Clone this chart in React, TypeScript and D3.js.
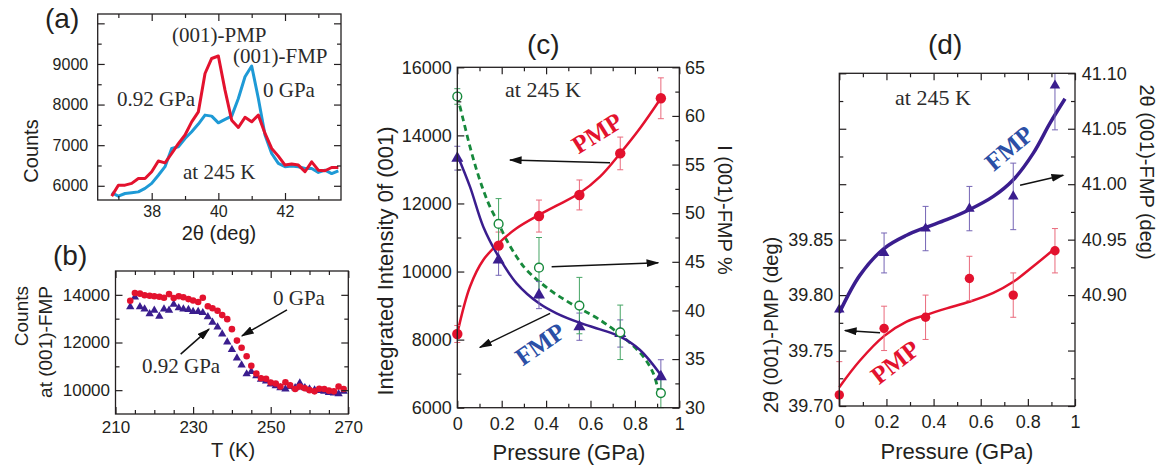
import React, { useEffect, useRef } from 'react';
import * as d3 from 'd3';

const SANS = '"Liberation Sans", Arial, Helvetica, sans-serif';
const SERIF = '"Liberation Serif", "Times New Roman", Times, serif';
const INK = '#231f20';
const RED = '#e3122e';
const RED_ERR = '#ea6a7c';
const SKY = '#1e9ad6';
const PURPLE = '#3a1d8e';
const PURPLE_ERR = '#7565b5';
const GREEN = '#17893c';
const GREEN_ERR = '#46a565';
const FMP_TXT = '#2b4fa6';

// (a) 2theta scans at 245 K
const scanTheta = [36.8, 37.0, 37.2, 37.4, 37.6, 37.8, 38.0, 38.2, 38.4, 38.6, 38.8, 39.0, 39.2, 39.4, 39.6, 39.8, 40.0, 40.2, 40.4, 40.6, 40.8, 41.0, 41.2, 41.4, 41.6, 41.8, 42.0, 42.2, 42.4, 42.6, 42.8, 43.0, 43.2, 43.4, 43.6];
const scan0GPa = [5828, 5745, 5810, 5830, 5850, 5935, 6060, 6260, 6470, 6920, 6960, 7165, 7330, 7520, 7740, 7715, 7550, 7635, 7715, 8150, 8685, 8950, 8150, 7250, 6795, 6550, 6470, 6485, 6470, 6425, 6425, 6330, 6385, 6300, 6370];
const scan092GPa = [5745, 6015, 6015, 6060, 6180, 6180, 6345, 6610, 6565, 6795, 7040, 7250, 7575, 7820, 8765, 9135, 9195, 8355, 7615, 7435, 7685, 7575, 7740, 7290, 6920, 6730, 6510, 6535, 6510, 6345, 6590, 6385, 6370, 6450, 6450];

// (b) temperature dependence of (001)-FMP counts
const tempK = [213.8, 215.0, 216.3, 217.5, 218.8, 220.0, 221.3, 222.5, 223.8, 225.0, 226.3, 227.5, 228.8, 230.0, 231.3, 232.5, 233.8, 235.0, 236.3, 237.5, 238.8, 240.0, 241.3, 242.5, 243.8, 245.0, 246.3, 247.5, 248.8, 250.0, 251.3, 252.5, 253.8, 255.0, 256.3, 257.5, 258.8, 260.0, 261.3, 262.5, 263.8, 265.0, 266.3, 267.5, 268.8];
const counts0GPa = [13750, 14080, 14050, 13980, 13960, 13940, 13920, 13880, 14030, 13870, 13940, 13900, 13820, 13760, 13700, 13880, 13520, 13440, 13330, 13150, 12980, 12560, 12080, 11780, 11420, 11020, 10700, 10500, 10480, 10320, 10280, 10150, 10330, 10200, 10050, 10150, 10080, 10000, 9950, 10060, 10050, 9980, 9950, 10150, 10050];
const counts092GPa = [13500, 13900, 13500, 13400, 13200, 13350, 13100, 13400, 13350, 13600, 13450, 13400, 13380, 13300, 13300, 13250, 13080, 12850, 12650, 12350, 12020, 11700, 11350, 11050, 10680, 10780, 10600, 10450, 10380, 10250, 10180, 10100, 10050, 10150, 10100, 10300, 10100, 10050, 10000, 9980, 9950, 9900, 9880, 9850, 9950];

// (c) integrated intensity vs pressure
const cPressure = [0, 0.186, 0.368, 0.55, 0.734, 0.917];
const cPmp = [8165, 10760, 11630, 12250, 13470, 15090];
const cPmpErr = [250, 400, 470, 440, 480, 600];
const cFmp = [13330, 10340, 9310, 8380, 8180, 6910];
const cFmpErr = [350, 450, 400, 400, 400, 500];
const cFmpPct = [62.0, 48.9, 44.4, 40.5, 37.75, 31.5];
const cFmpPctErr = [0.8, 2.6, 3.1, 2.9, 2.8, 1.5];
const cFitP = [0, 0.057, 0.117, 0.186, 0.267, 0.368, 0.447, 0.55, 0.643, 0.734, 0.823, 0.917];
const cPmpFit = [8184, 9555, 10340, 10830, 11270, 11661, 11935, 12298, 12787, 13473, 14208, 15090];
const cFmpFit = [13424, 12494, 11318, 10437, 9653, 9066, 8772, 8498, 8302, 8086, 7695, 6960];
const cPctFitP = [0, 0.027, 0.057, 0.087, 0.117, 0.147, 0.185, 0.222, 0.267, 0.312, 0.417, 0.523, 0.643, 0.763, 0.838, 0.883, 0.905];
const cPctFit = [62.05, 59.58, 56.84, 54.44, 52.38, 50.67, 48.96, 47.24, 45.53, 44.16, 42.1, 40.56, 39.02, 36.96, 35.25, 33.53, 31.82];

// (d) peak positions vs pressure
const dPressure = [0, 0.19, 0.366, 0.552, 0.738, 0.915];
const dPmp = [39.71, 39.77, 39.78, 39.815, 39.8, 39.84];
const dPmpErr = [0.03, 0.02, 0.02, 0.02, 0.02, 0.02];
const dFmp = [40.887, 40.938, 40.96, 40.978, 40.989, 41.089];
const dFmpErr = [0, 0.018, 0.02, 0.02, 0.03, 0.04];
const dFmpFitP = [0, 0.0877, 0.1895, 0.2857, 0.3663, 0.4554, 0.5516, 0.6535, 0.7383, 0.8232, 0.8939, 0.9576];
const dFmpFit = [40.884, 40.918, 40.942, 40.954, 40.961, 40.968, 40.977, 40.989, 41.004, 41.028, 41.055, 41.077];
const dPmpFitP = [0, 0.0877, 0.1895, 0.2857, 0.3663, 0.4554, 0.5516, 0.6535, 0.7383, 0.8232, 0.9151];
const dPmpFit = [39.717, 39.741, 39.763, 39.776, 39.782, 39.788, 39.794, 39.802, 39.812, 39.826, 39.842];

const fmtP = d3.format('~g');

function axis(g, ax, transform, fs = 16) {
  const a = g.append('g').attr('transform', transform).call(ax);
  a.select('.domain').remove();
  a.attr('color', INK).attr('font-family', SANS).attr('font-size', fs);
  a.selectAll('line').attr('stroke-width', 1.2);
  a.selectAll('text').attr('fill', INK);
  return a;
}

function frame(g, x, y, o) {
  const [x0, x1] = x.range();
  const [y0, y1] = y.range();
  g.append('rect')
    .attr('x', x0).attr('y', y1)
    .attr('width', x1 - x0).attr('height', y0 - y1)
    .attr('fill', 'none').attr('stroke', INK).attr('stroke-width', 1.3);
  const none = () => '';
  axis(g, d3.axisBottom(x).tickValues(o.xMajor).tickSize(-o.maj).tickPadding(o.padB).tickFormat(o.xFmt), `translate(0,${y0})`, o.fs);
  axis(g, d3.axisBottom(x).tickValues(o.xMinor).tickSize(-o.min).tickFormat(none), `translate(0,${y0})`);
  axis(g, d3.axisTop(x).tickValues(o.xMajor).tickSize(-o.maj).tickFormat(none), `translate(0,${y1})`);
  axis(g, d3.axisTop(x).tickValues(o.xMinor).tickSize(-o.min).tickFormat(none), `translate(0,${y1})`);
  axis(g, d3.axisLeft(y).tickValues(o.yMajor).tickSize(-o.maj).tickPadding(o.padL).tickFormat(o.yFmt), `translate(${x0},0)`, o.fs);
  axis(g, d3.axisLeft(y).tickValues(o.yMinor).tickSize(-o.min).tickFormat(none), `translate(${x0},0)`);
  const yr = o.yR || y;
  axis(g, d3.axisRight(yr).tickValues(o.yRMajor || o.yMajor).tickSize(-o.maj).tickPadding(o.padR || 6).tickFormat(o.yR ? o.yRFmt : none), `translate(${x1},0)`, o.fs);
  axis(g, d3.axisRight(yr).tickValues(o.yRMinor || o.yMinor).tickSize(-o.min).tickFormat(none), `translate(${x1},0)`);
}

function curve(g, x, y, xs, ys, color, width, dash = null) {
  const line = d3.line().curve(d3.curveCatmullRom.alpha(0.5)).x(d => x(d[0])).y(d => y(d[1]));
  g.append('path')
    .datum(xs.map((v, i) => [v, ys[i]]))
    .attr('d', line)
    .attr('fill', 'none').attr('stroke', color).attr('stroke-width', width)
    .attr('stroke-dasharray', dash).attr('stroke-linejoin', 'round');
}

function errBars(g, x, y, xs, vs, es, color) {
  const [bottom, top] = y.range();
  xs.forEach((p, i) => {
    if (!es[i]) return;
    const yt = y(vs[i] + es[i]);
    const yb = y(vs[i] - es[i]);
    const ct = Math.max(top, yt);
    const cb = Math.min(bottom, yb);
    const cx = x(p);
    g.append('line').attr('x1', cx).attr('x2', cx).attr('y1', ct).attr('y2', cb).attr('stroke', color).attr('stroke-width', 1);
    if (yt >= top) g.append('line').attr('x1', cx - 3).attr('x2', cx + 3).attr('y1', yt).attr('y2', yt).attr('stroke', color).attr('stroke-width', 1);
    if (yb <= bottom) g.append('line').attr('x1', cx - 3).attr('x2', cx + 3).attr('y1', yb).attr('y2', yb).attr('stroke', color).attr('stroke-width', 1);
  });
}

function circles(g, x, y, xs, vs, r, color, open = false) {
  g.selectAll(null).data(xs.map((v, i) => [v, vs[i]])).enter().append('circle')
    .attr('cx', d => x(d[0])).attr('cy', d => y(d[1])).attr('r', r)
    .attr('fill', open ? '#fff' : color).attr('stroke', color).attr('stroke-width', open ? 1.4 : 0);
}

function triangles(g, x, y, xs, vs, size, color) {
  const sym = d3.symbol(d3.symbolTriangle, size);
  g.selectAll(null).data(xs.map((v, i) => [v, vs[i]])).enter().append('path')
    .attr('d', sym)
    .attr('transform', d => `translate(${x(d[0])},${y(d[1])})`)
    .attr('fill', color);
}

function serif(g, x, y, txt, size, opts = {}) {
  const t = g.append('text')
    .attr('font-family', SERIF).attr('font-size', size)
    .attr('fill', opts.color || '#2b2b2b')
    .attr('font-weight', opts.bold ? 'bold' : 'normal')
    .text(txt);
  if (opts.rotate !== undefined) {
    t.attr('transform', `translate(${x},${y}) rotate(${opts.rotate})`)
      .attr('text-anchor', 'middle').attr('dominant-baseline', 'central');
  } else {
    t.attr('x', x).attr('y', y);
  }
  return t;
}

function sans(g, x, y, txt, size, rotate = 0, anchor = 'middle') {
  return g.append('text')
    .attr('transform', `translate(${x},${y}) rotate(${rotate})`)
    .attr('text-anchor', anchor)
    .attr('font-family', SANS).attr('font-size', size).attr('fill', INK)
    .text(txt);
}

function arrow(g, x, y, from, to) {
  g.append('line')
    .attr('x1', x(from[0])).attr('y1', y(from[1]))
    .attr('x2', x(to[0])).attr('y2', y(to[1]))
    .attr('stroke', '#111').attr('stroke-width', 1.5)
    .attr('marker-end', 'url(#arrowhead)');
}

const App = () => {
  const svgRef = useRef(null);

  useEffect(() => {
    const svg = d3.select(svgRef.current);
    svg.selectAll('*').remove();

    svg.append('defs').append('marker')
      .attr('id', 'arrowhead')
      .attr('viewBox', '0 0 10 10')
      .attr('refX', 9).attr('refY', 5)
      .attr('markerWidth', 13).attr('markerHeight', 8)
      .attr('markerUnits', 'userSpaceOnUse')
      .attr('preserveAspectRatio', 'none')
      .attr('orient', 'auto')
      .append('path').attr('d', 'M0,0 L10,5 L0,10 z').attr('fill', '#111');

    // ---------- (a) ----------
    const ga = svg.append('g');
    const xa = d3.scaleLinear().domain([36.38, 43.68]).range([97.7, 341]);
    const ya = d3.scaleLinear().domain([5650, 10230]).range([200, 14]);
    curve(ga, xa, ya, scanTheta, scan0GPa, SKY, 3);
    ga.select('path:last-child').attr('d', d3.line().x(d => xa(d[0])).y(d => ya(d[1]))(scanTheta.map((v, i) => [v, scan0GPa[i]])));
    ga.append('path')
      .attr('d', d3.line().x(d => xa(d[0])).y(d => ya(d[1]))(scanTheta.map((v, i) => [v, scan092GPa[i]])))
      .attr('fill', 'none').attr('stroke', RED).attr('stroke-width', 3).attr('stroke-linejoin', 'round');
    frame(ga, xa, ya, {
      xMajor: [38, 40, 42], xMinor: [37, 39, 41, 43], xFmt: d3.format('d'),
      yMajor: [6000, 7000, 8000, 9000, 10000], yMinor: [6500, 7500, 8500, 9500],
      yFmt: v => (v === 10000 ? '' : v), maj: 7, min: 4, padB: 5.5, padL: 9.5, fs: 16,
    });
    sans(ga, 38, 151, 'Counts', 20, -90);
    sans(ga, 219, 240, '2θ (deg)', 20);
    sans(ga, 45, 28, '(a)', 28, 0, 'start');
    serif(ga, 172, 42, '(001)-PMP', 21);
    serif(ga, 233, 63, '(001)-FMP', 21);
    serif(ga, 117, 106, '0.92 GPa', 21);
    serif(ga, 263, 97, '0 GPa', 21);
    serif(ga, 183, 179, 'at 245 K', 21);

    // ---------- (b) ----------
    const gb = svg.append('g');
    const xb = d3.scaleLinear().domain([210, 270]).range([115.5, 348.3]);
    const yb = d3.scaleLinear().domain([9000, 15000]).range([414, 271]);
    triangles(gb, xb, yb, tempK, counts092GPa, 30, PURPLE);
    circles(gb, xb, yb, tempK, counts0GPa, 3.3, RED);
    frame(gb, xb, yb, {
      xMajor: [210, 230, 250, 270], xMinor: [215, 220, 225, 235, 240, 245, 255, 260, 265], xFmt: d3.format('d'),
      yMajor: [10000, 12000, 14000], yMinor: [11000, 13000], yFmt: d3.format('d'),
      maj: 7, min: 4, padB: 6.5, padL: 5.5, fs: 17,
    });
    sans(gb, 28, 286, 'Counts', 19, -90, 'end');
    sans(gb, 52, 286, 'at (001)-FMP', 19, -90, 'end');
    sans(gb, 233, 457, 'T (K)', 20);
    sans(gb, 53, 265, '(b)', 28, 0, 'start');
    serif(gb, 273, 305, '0 GPa', 21);
    serif(gb, 142, 373, '0.92 GPa', 21);
    arrow(gb, xb, yb, [254.2, 13371], [242.6, 12281]);
    arrow(gb, xb, yb, [226.8, 11513], [234.1, 12561]);

    // ---------- (c) ----------
    const gc = svg.append('g');
    const xc = d3.scaleLinear().domain([0, 1]).range([457.3, 679.3]);
    const yc = d3.scaleLinear().domain([6000, 16000]).range([407.7, 67.3]);
    const yc2 = d3.scaleLinear().domain([30, 65]).range([407.7, 67.3]);
    curve(gc, xc, yc2, cPctFitP, cPctFit, GREEN, 2.8, '6,4');
    curve(gc, xc, yc, cFitP, cPmpFit, RED, 2.5);
    curve(gc, xc, yc, cFitP, cFmpFit, PURPLE, 2.5);
    errBars(gc, xc, yc, cPressure, cPmp, cPmpErr, RED_ERR);
    errBars(gc, xc, yc, cPressure, cFmp, cFmpErr, PURPLE_ERR);
    errBars(gc, xc, yc2, cPressure, cFmpPct, cFmpPctErr, GREEN_ERR);
    circles(gc, xc, yc, cPressure, cPmp, 5.2, RED);
    triangles(gc, xc, yc, cPressure, cFmp, 62, PURPLE);
    circles(gc, xc, yc2, cPressure, cFmpPct, 4.4, GREEN, true);
    frame(gc, xc, yc, {
      xMajor: [0, 0.2, 0.4, 0.6, 0.8, 1], xMinor: [0.1, 0.3, 0.5, 0.7, 0.9], xFmt: fmtP,
      yMajor: [6000, 8000, 10000, 12000, 14000, 16000], yMinor: [7000, 9000, 11000, 13000, 15000], yFmt: d3.format('d'),
      yR: yc2, yRMajor: [30, 35, 40, 45, 50, 55, 60, 65], yRMinor: [32.5, 37.5, 42.5, 47.5, 52.5, 57.5, 62.5], yRFmt: d3.format('d'),
      maj: 7, min: 4, padB: 9.5, padL: 5.6, padR: 5.7, fs: 18,
    });
    sans(gc, 393, 261, 'Integrated Intensity 0f (001)', 22, -90);
    sans(gc, 718, 210, 'I (001)-FMP %', 20, 90);
    sans(gc, 569, 460, 'Pressure (GPa)', 22);
    sans(gc, 527, 54, '(c)', 28, 0, 'start');
    serif(gc, 505, 97, 'at 245 K', 22);
    serif(gc, 597, 133, 'PMP', 25, { color: RED, bold: true, rotate: -32 });
    serif(gc, 540, 344, 'FMP', 25, { color: FMP_TXT, bold: true, rotate: -35 });
    arrow(gc, xc, yc, [0.688, 13197], [0.237, 13276]);
    arrow(gc, xc, yc, [0.425, 10142], [0.905, 10260]);
    arrow(gc, xc, yc, [0.418, 8773], [0.102, 7774]);

    // ---------- (d) ----------
    const gd = svg.append('g');
    const xd = d3.scaleLinear().domain([0, 1]).range([839.3, 1075]);
    const yd = d3.scaleLinear().domain([39.7, 40.0]).range([406, 73.3]);
    const yd2 = d3.scaleLinear().domain([40.8, 41.1]).range([406, 73.3]);
    curve(gd, xd, yd2, dFmpFitP, dFmpFit, PURPLE, 3.5);
    curve(gd, xd, yd, dPmpFitP, dPmpFit, RED, 2.5);
    errBars(gd, xd, yd2, dPressure, dFmp, dFmpErr, PURPLE_ERR);
    errBars(gd, xd, yd, dPressure, dPmp, dPmpErr, RED_ERR);
    triangles(gd, xd, yd2, dPressure, dFmp, 48, PURPLE);
    circles(gd, xd, yd, dPressure, dPmp, 4.7, RED);
    const f2 = d3.format('.2f');
    frame(gd, xd, yd, {
      xMajor: [0, 0.2, 0.4, 0.6, 0.8, 1], xMinor: [0.1, 0.3, 0.5, 0.7, 0.9], xFmt: fmtP,
      yMajor: [39.7, 39.75, 39.8, 39.85, 39.9, 39.95, 40.0], yMinor: [39.725, 39.775, 39.825, 39.875, 39.925, 39.975],
      yFmt: v => (v > 39.86 ? '' : f2(v)),
      yR: yd2, yRMajor: [40.8, 40.85, 40.9, 40.95, 41.0, 41.05, 41.1], yRMinor: [40.825, 40.875, 40.925, 40.975, 41.025, 41.075],
      yRFmt: v => (v < 40.89 ? '' : f2(v)),
      maj: 7, min: 4, padB: 9.2, padL: 6, padR: 6.7, fs: 18,
    });
    sans(gd, 778, 325, '2θ (001)-PMP (deg)', 20, -90);
    sans(gd, 1140, 172, '2θ (001)-FMP (deg)', 20, 90);
    sans(gd, 957, 459, 'Pressure (GPa)', 22);
    sans(gd, 928, 54, '(d)', 28, 0, 'start');
    serif(gd, 895, 105, 'at 245 K', 22);
    serif(gd, 1009, 148, 'FMP', 25, { color: FMP_TXT, bold: true, rotate: -40 });
    serif(gd, 895, 362, 'PMP', 25, { color: RED, bold: true, rotate: -38 });
    arrow(gd, xd, yd2, [0.767, 40.999], [0.95, 41.008]);
    arrow(gd, xd, yd, [0.173, 39.766], [0.024, 39.768]);
  }, []);

  return (
    <svg
      ref={svgRef}
      width={1162}
      height={470}
      style={{ position: 'absolute', left: 0, top: 0, background: '#fff' }}
    />
  );
};

export default App;
